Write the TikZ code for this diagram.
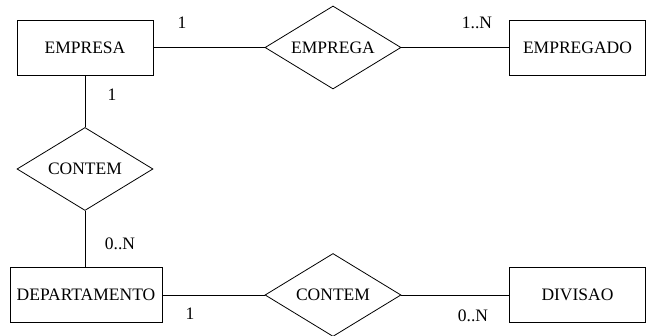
\documentclass[tikz,border=0pt]{standalone}
\usepackage{fontspec}
\setmainfont{Liberation Serif}
\usetikzlibrary{shapes.geometric,positioning}
\tikzstyle{entity} = [rectangle, draw, fill=white,
    minimum width=136pt, minimum height=55pt, inner sep=0pt]
\tikzstyle{relation} = [diamond, draw, fill=white, aspect=1.64,
    minimum width=136pt, minimum height=83pt, inner sep=0pt]
\tikzstyle{line} = [draw]
\tikzstyle{card} = [inner sep=0pt]

\begin{document}
\begin{tikzpicture}[x=1pt, y=-1pt, line width=0.8pt,
    font=\fontsize{17.5}{20}\selectfont]
 \useasboundingbox (0,0) rectangle (651,336);
 % Place nodes
   \node[entity] (empresa) at (85,47.5) {EMPRESA};
    \node [relation] (emprega) at (333,47.5) {EMPREGA};
    \node [entity] (empregado) at (577.5,47.5) {EMPREGADO};
    \node [relation] (contem1) at (85,169) {CONTEM};
    \node [entity, minimum width=152pt] (depto) at (86,295) {DEPARTAMENTO};
    \node [relation] (contem2) at (333,295) {CONTEM};
    \node [entity] (divisao) at (577.5,295) {DIVISAO};

    % Cardinalities
    \node[card] (c1) at (182,23) {1};
    \node[card] (c2) at (477,23) {1..N};
    \node[card] (c3) at (112,95) {1};
    \node[card] (c4) at (120,244) {0..N};
    \node[card] (c5) at (190,313.5) {1};
    \node[card] (c6) at (473,316) {0..N};

    % Draw edges
   \path [line] (empresa) -- (emprega); \path [line] (emprega) --
   (empregado); \path [line] (empresa.south) -- (contem1.north);
   \path [line] (contem1.south) -- (contem1.south |- depto.north);
   \path [line] (depto) -- (contem2); \path [line] (contem2) --
   (divisao);
\end{tikzpicture}
\end{document}
